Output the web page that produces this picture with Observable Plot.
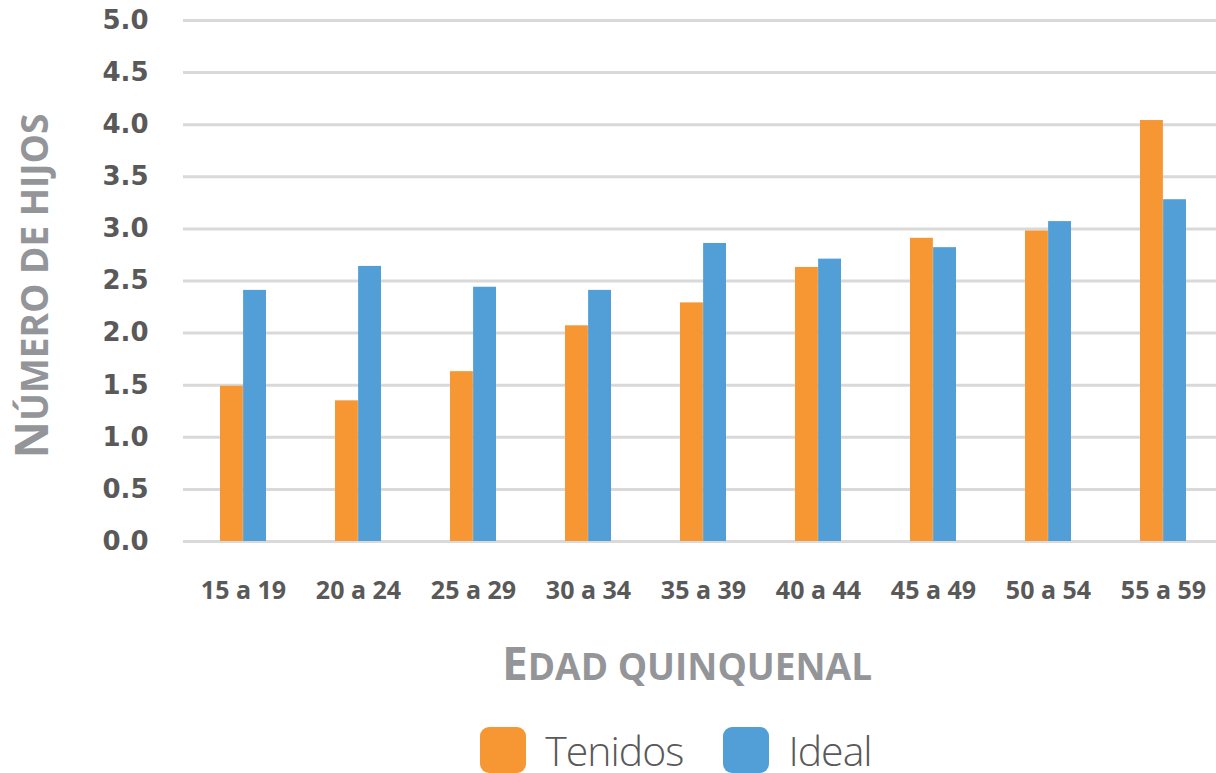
<!DOCTYPE html>
<html><head><meta charset="utf-8">
<script src="https://cdn.jsdelivr.net/npm/d3@7"></script>
<script src="https://cdn.jsdelivr.net/npm/@observablehq/plot@0.6"></script>
<style>
body{margin:0;background:#fff;}
#wrap{position:relative;width:1216px;height:773px;overflow:hidden;}
.ttl{position:absolute;font-family:"Open Sans";font-weight:700;color:#939598;white-space:nowrap;line-height:1;}
.big{font-size:46px}.small{font-size:37px}
#legend{position:absolute;left:0;width:1216px;top:727px;display:flex;justify-content:center;gap:40px;padding-left:136px;box-sizing:border-box;font-family:"Open Sans";font-weight:300;font-size:41px;letter-spacing:-1px;color:#595959;}
#legend .it{display:flex;align-items:center;gap:19px;height:46px;}
#legend .it span{line-height:1;}
#legend .sw{width:46px;height:46px;border-radius:9px;}
</style></head><body><div id="wrap"></div>
<script>
const categories = ["15 a 19","20 a 24","25 a 29","30 a 34","35 a 39","40 a 44","45 a 49","50 a 54","55 a 59"];
const tenidos = [1.49, 1.35, 1.63, 2.07, 2.29, 2.63, 2.91, 2.98, 4.04];
const ideal   = [2.41, 2.64, 2.44, 2.41, 2.86, 2.71, 2.82, 3.07, 3.28];
const series = ["Tenidos", "Ideal"];
const colors = ["#F79734", "#529FD8"];
const yTicks = [0, 0.5, 1, 1.5, 2, 2.5, 3, 3.5, 4, 4.5, 5];
const yTitle = ["N", "ÚMERO DE HIJOS"];
const xTitle = ["E", "DAD QUINQUENAL"];

const rows = categories.flatMap((c, i) => [
  {cat: c, serie: series[0], v: tenidos[i]},
  {cat: c, serie: series[1], v: ideal[i]}
]);

// plot area runs slightly past the right edge of the picture (clipped by the wrapper)
const W = 1223, mL = 183, mR = 0;
const step = (W - mL - mR) / categories.length;
const half = 0.4 * step / 2;

const plot = Plot.plot({
  width: W, height: 620,
  marginLeft: mL, marginRight: mR, marginTop: 20, marginBottom: 79,
  style: {fontFamily: "Open Sans", background: "#fff"},
  x: {domain: categories, paddingInner: 0.6, paddingOuter: 0.3, label: null},
  y: {domain: [0, 5], label: null},
  color: {domain: series, range: colors},
  marks: [
    Plot.ruleY(yTicks, {stroke: "#d9d9d9", strokeWidth: 3}),
    Plot.barY(rows.filter(d => d.serie === series[0]), {x: "cat", y: "v", fill: "serie", insetRight: half}),
    Plot.barY(rows.filter(d => d.serie === series[1]), {x: "cat", y: "v", fill: "serie", insetLeft: half}),
    Plot.axisY(yTicks, {tickSize: 0, tickPadding: 35, tickFormat: d3.format(".1f"), fontSize: 26, fontWeight: 700, fontFamily: "DejaVu Sans", fill: "#595959", label: null}),
    Plot.axisX({tickSize: 0, tickPadding: 40, fontSize: 25, fontWeight: 700, fill: "#595959", label: null})
  ]
});
const wrap = document.getElementById("wrap");
plot.style.position = "absolute"; plot.style.left = "0"; plot.style.top = "0";
plot.style.maxWidth = "none";
wrap.appendChild(plot);

const yt = document.createElement("div");
yt.className = "ttl";
yt.innerHTML = `<span class="big">${yTitle[0]}</span><span class="small">${yTitle[1]}</span>`;
yt.style.left = "30px"; yt.style.top = "286px";
yt.style.transform = "translate(-50%,-50%) rotate(-90deg)";
wrap.appendChild(yt);

const xt = document.createElement("div");
xt.className = "ttl";
xt.innerHTML = `<span class="big">${xTitle[0]}</span><span class="small">${xTitle[1]}</span>`;
xt.style.left = "687px"; xt.style.top = "662px";
xt.style.transform = "translate(-50%,-50%)";
wrap.appendChild(xt);

const lg = document.createElement("div");
lg.id = "legend";
series.forEach((s, i) => {
  const it = document.createElement("div"); it.className = "it";
  const sw = document.createElement("div"); sw.className = "sw"; sw.style.background = colors[i];
  const tx = document.createElement("span"); tx.textContent = s;
  it.appendChild(sw); it.appendChild(tx); lg.appendChild(it);
});
wrap.appendChild(lg);
</script></body></html>
